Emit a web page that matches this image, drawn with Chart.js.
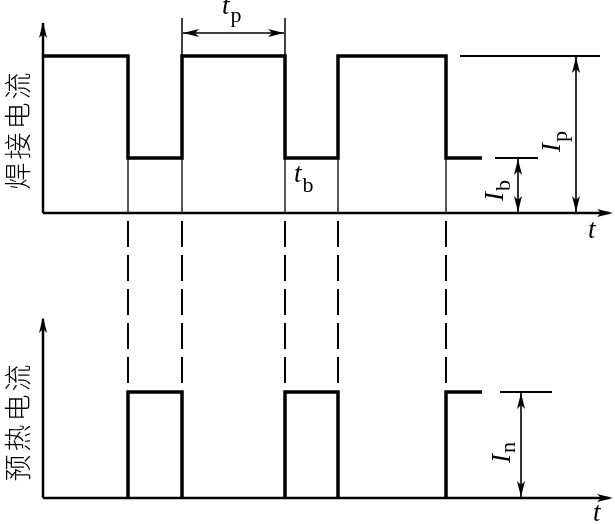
<!DOCTYPE html>
<html>
<head>
<meta charset="utf-8">
<script src="https://cdn.jsdelivr.net/npm/chart.js@4.4.0/dist/chart.umd.min.js"></script>
<style>
  html, body { margin: 0; padding: 0; background: #fff; }
  canvas { display: block; }
</style>
</head>
<body>
<canvas id="pulseChart" width="615" height="524"></canvas>
<script>
// time of each switching edge (first and last are the drawn ends)
const edgesT = [0, 8.5, 13.9, 24.2, 29.5, 40.3, 43.9];
// current level of each segment between edges
const weldLevels = [10, 3.5, 10, 3.5, 10, 3.5];      // Ip / Ib
const preheatLevels = [0, 6.75, 0, 6.75, 0, 6.75];   // 0 / In
const Ip = 10, Ib = 3.5, In = 6.75;
const axisTitles = ['焊接电流', '预热电流'];

// build the step waveforms from the arrays
let weldPts = [];
for (let i = 0; i < weldLevels.length; i++) {
  weldPts.push({x: edgesT[i], y: weldLevels[i]});
  weldPts.push({x: edgesT[i + 1], y: weldLevels[i]});
}
let preheatPts = [];
for (let i = 0; i < preheatLevels.length; i++) {
  const lv = preheatLevels[i];
  if (lv <= 0) continue;
  preheatPts.push({x: edgesT[i], y: 0});
  preheatPts.push({x: edgesT[i], y: lv});
  preheatPts.push({x: edgesT[i + 1], y: lv});
  if (i < preheatLevels.length - 1) {
    preheatPts.push({x: edgesT[i + 1], y: 0});
    preheatPts.push({x: edgesT[i + 1], y: null});
  }
}

function head(ctx, x, y, ang) {
  const len = 16, half = 4, notch = 12;
  ctx.save();
  ctx.translate(x, y);
  ctx.rotate(ang);
  ctx.beginPath();
  ctx.moveTo(0, 0);
  ctx.lineTo(-len, -half);
  ctx.lineTo(-notch, 0);
  ctx.lineTo(-len, half);
  ctx.closePath();
  ctx.fill();
  ctx.restore();
}
function line(ctx, x1, y1, x2, y2, w) {
  ctx.lineWidth = w;
  ctx.beginPath();
  ctx.moveTo(x1, y1);
  ctx.lineTo(x2, y2);
  ctx.stroke();
}
function dimArrow(ctx, x1, y1, x2, y2) {
  line(ctx, x1, y1, x2, y2, 1.6);
  const a = Math.atan2(y2 - y1, x2 - x1);
  head(ctx, x2, y2, a);
  head(ctx, x1, y1, a + Math.PI);
}
// main letter italic + subscript, optionally rotated
function subLabel(ctx, x, y, main, sub, rot, drop) {
  ctx.save();
  ctx.translate(x, y);
  if (rot) ctx.rotate(-Math.PI / 2);
  ctx.textAlign = 'left';
  ctx.textBaseline = 'alphabetic';
  ctx.font = 'italic 27px "Liberation Serif"';
  ctx.fillText(main, 0, 0);
  const w = ctx.measureText(main).width;
  if (sub) {
    ctx.font = '22px "Liberation Serif"';
    ctx.fillText(sub, w + 1, drop);
  }
  ctx.restore();
}

const diagram = {
  id: 'diagram',
  beforeDatasetsDraw(chart) {
    const ctx = chart.ctx, sx = chart.scales.x, yt = chart.scales.yTop, yb = chart.scales.yBot;
    ctx.save();
    ctx.strokeStyle = '#000';
    ctx.fillStyle = '#000';
    ctx.lineCap = 'butt';
    const x0 = sx.getPixelForValue(0);
    // axes
    line(ctx, x0, yt.getPixelForValue(0), x0, yt.getPixelForValue(12.1), 2.5);
    head(ctx, x0, yt.getPixelForValue(12.17), -Math.PI / 2);
    line(ctx, x0, yt.getPixelForValue(0), sx.getPixelForValue(56.6), yt.getPixelForValue(0), 2.5);
    head(ctx, sx.getPixelForValue(57), yt.getPixelForValue(0), 0);
    line(ctx, x0, yb.getPixelForValue(0), x0, yb.getPixelForValue(11.4), 2.5);
    head(ctx, x0, yb.getPixelForValue(11.53), -Math.PI / 2);
    line(ctx, x0, yb.getPixelForValue(0), sx.getPixelForValue(56.6), yb.getPixelForValue(0), 2.5);
    head(ctx, sx.getPixelForValue(57), yb.getPixelForValue(0), 0);

    // thin guides under the low level and dashed links to the lower panel
    for (let i = 1; i < edgesT.length - 1; i++) {
      const px = sx.getPixelForValue(edgesT[i]);
      ctx.strokeStyle = '#222';
      line(ctx, px, yt.getPixelForValue(Ib), px, yt.getPixelForValue(0), 1.5);
      ctx.strokeStyle = '#000';
      ctx.setLineDash([26, 8]);
      ctx.lineDashOffset = 26;
      line(ctx, px, yt.getPixelForValue(0), px, yb.getPixelForValue(In), 2);
      ctx.setLineDash([]);
    }
    ctx.restore();
  },
  afterDatasetsDraw(chart) {
    const ctx = chart.ctx, sx = chart.scales.x, yt = chart.scales.yTop, yb = chart.scales.yBot;
    ctx.save();
    ctx.strokeStyle = '#000';
    ctx.fillStyle = '#000';
    // tp dimension
    const a = sx.getPixelForValue(edgesT[2]), b = sx.getPixelForValue(edgesT[3]);
    line(ctx, a, yt.getPixelForValue(Ip), a, yt.getPixelForValue(12.42), 1.5);
    line(ctx, b, yt.getPixelForValue(Ip), b, yt.getPixelForValue(12.42), 1.5);
    dimArrow(ctx, a + 1, yt.getPixelForValue(11.46), b - 1, yt.getPixelForValue(11.46));
    // reference lines
    line(ctx, sx.getPixelForValue(41.7), yt.getPixelForValue(Ip), sx.getPixelForValue(55.7), yt.getPixelForValue(Ip), 2);
    line(ctx, sx.getPixelForValue(45.2), yt.getPixelForValue(Ib), sx.getPixelForValue(49.5), yt.getPixelForValue(Ib), 2);
    line(ctx, sx.getPixelForValue(45.7), yb.getPixelForValue(In), sx.getPixelForValue(50.9), yb.getPixelForValue(In), 2);
    // Ip, Ib, In arrows
    dimArrow(ctx, sx.getPixelForValue(53.3), yt.getPixelForValue(Ip) + 1, sx.getPixelForValue(53.3), yt.getPixelForValue(0) - 1);
    dimArrow(ctx, sx.getPixelForValue(47.5), yt.getPixelForValue(Ib) + 1, sx.getPixelForValue(47.5), yt.getPixelForValue(0) - 1);
    dimArrow(ctx, sx.getPixelForValue(47.8), yb.getPixelForValue(In) + 1, sx.getPixelForValue(47.8), yb.getPixelForValue(0) - 1);

    // labels
    subLabel(ctx, 222, 14, 't', 'p', false, 8);
    subLabel(ctx, 294, 182, 't', 'b', false, 10);
    subLabel(ctx, 560, 152, 'I', 'p', true, 7);
    subLabel(ctx, 503, 201, 'I', 'b', true, 7);
    subLabel(ctx, 510, 463, 'I', 'n', true, 5);
    subLabel(ctx, 588, 238, 't', '', false, 0);
    subLabel(ctx, 593, 521, 't', '', false, 0);

    ctx.font = '300 27px "Noto Sans CJK SC"';
    ctx.letterSpacing = '3px';
    ctx.textAlign = 'center';
    ctx.textBaseline = 'middle';
    [[131, axisTitles[0]], [423, axisTitles[1]]].forEach(function(t) {
      ctx.save();
      ctx.translate(18, t[0]);
      ctx.rotate(-Math.PI / 2);
      ctx.fillText(t[1], 1.5, 0);
      ctx.restore();
    });
    ctx.restore();
  }
};

var ctx = document.getElementById('pulseChart').getContext('2d');
var chart = new Chart(ctx, {
  type: 'scatter',
  data: {
    datasets: [{
      label: '焊接电流',
      data: weldPts,
      yAxisID: 'yTop',
      showLine: true,
      borderColor: '#000',
      borderWidth: 3.5,
      pointRadius: 0,
      tension: 0,
      spanGaps: false
    }, {
      label: '预热电流',
      data: preheatPts,
      yAxisID: 'yBot',
      showLine: true,
      borderColor: '#000',
      borderWidth: 3.5,
      pointRadius: 0,
      tension: 0,
      spanGaps: false
    }]
  },
  options: {
    responsive: false,
    animation: false,
    devicePixelRatio: 1,
    layout: { padding: { left: 43, right: 5, top: 15, bottom: 26 } },
    plugins: { legend: { display: false }, tooltip: { enabled: false } },
    scales: {
      x: { type: 'linear', min: 0, max: 56.7, display: false },
      yTop: { type: 'linear', min: -18.153, max: 12.611, display: false },
      yBot: { type: 'linear', min: 0, max: 30.764, display: false }
    }
  },
  plugins: [diagram]
});
</script>
</body>
</html>
